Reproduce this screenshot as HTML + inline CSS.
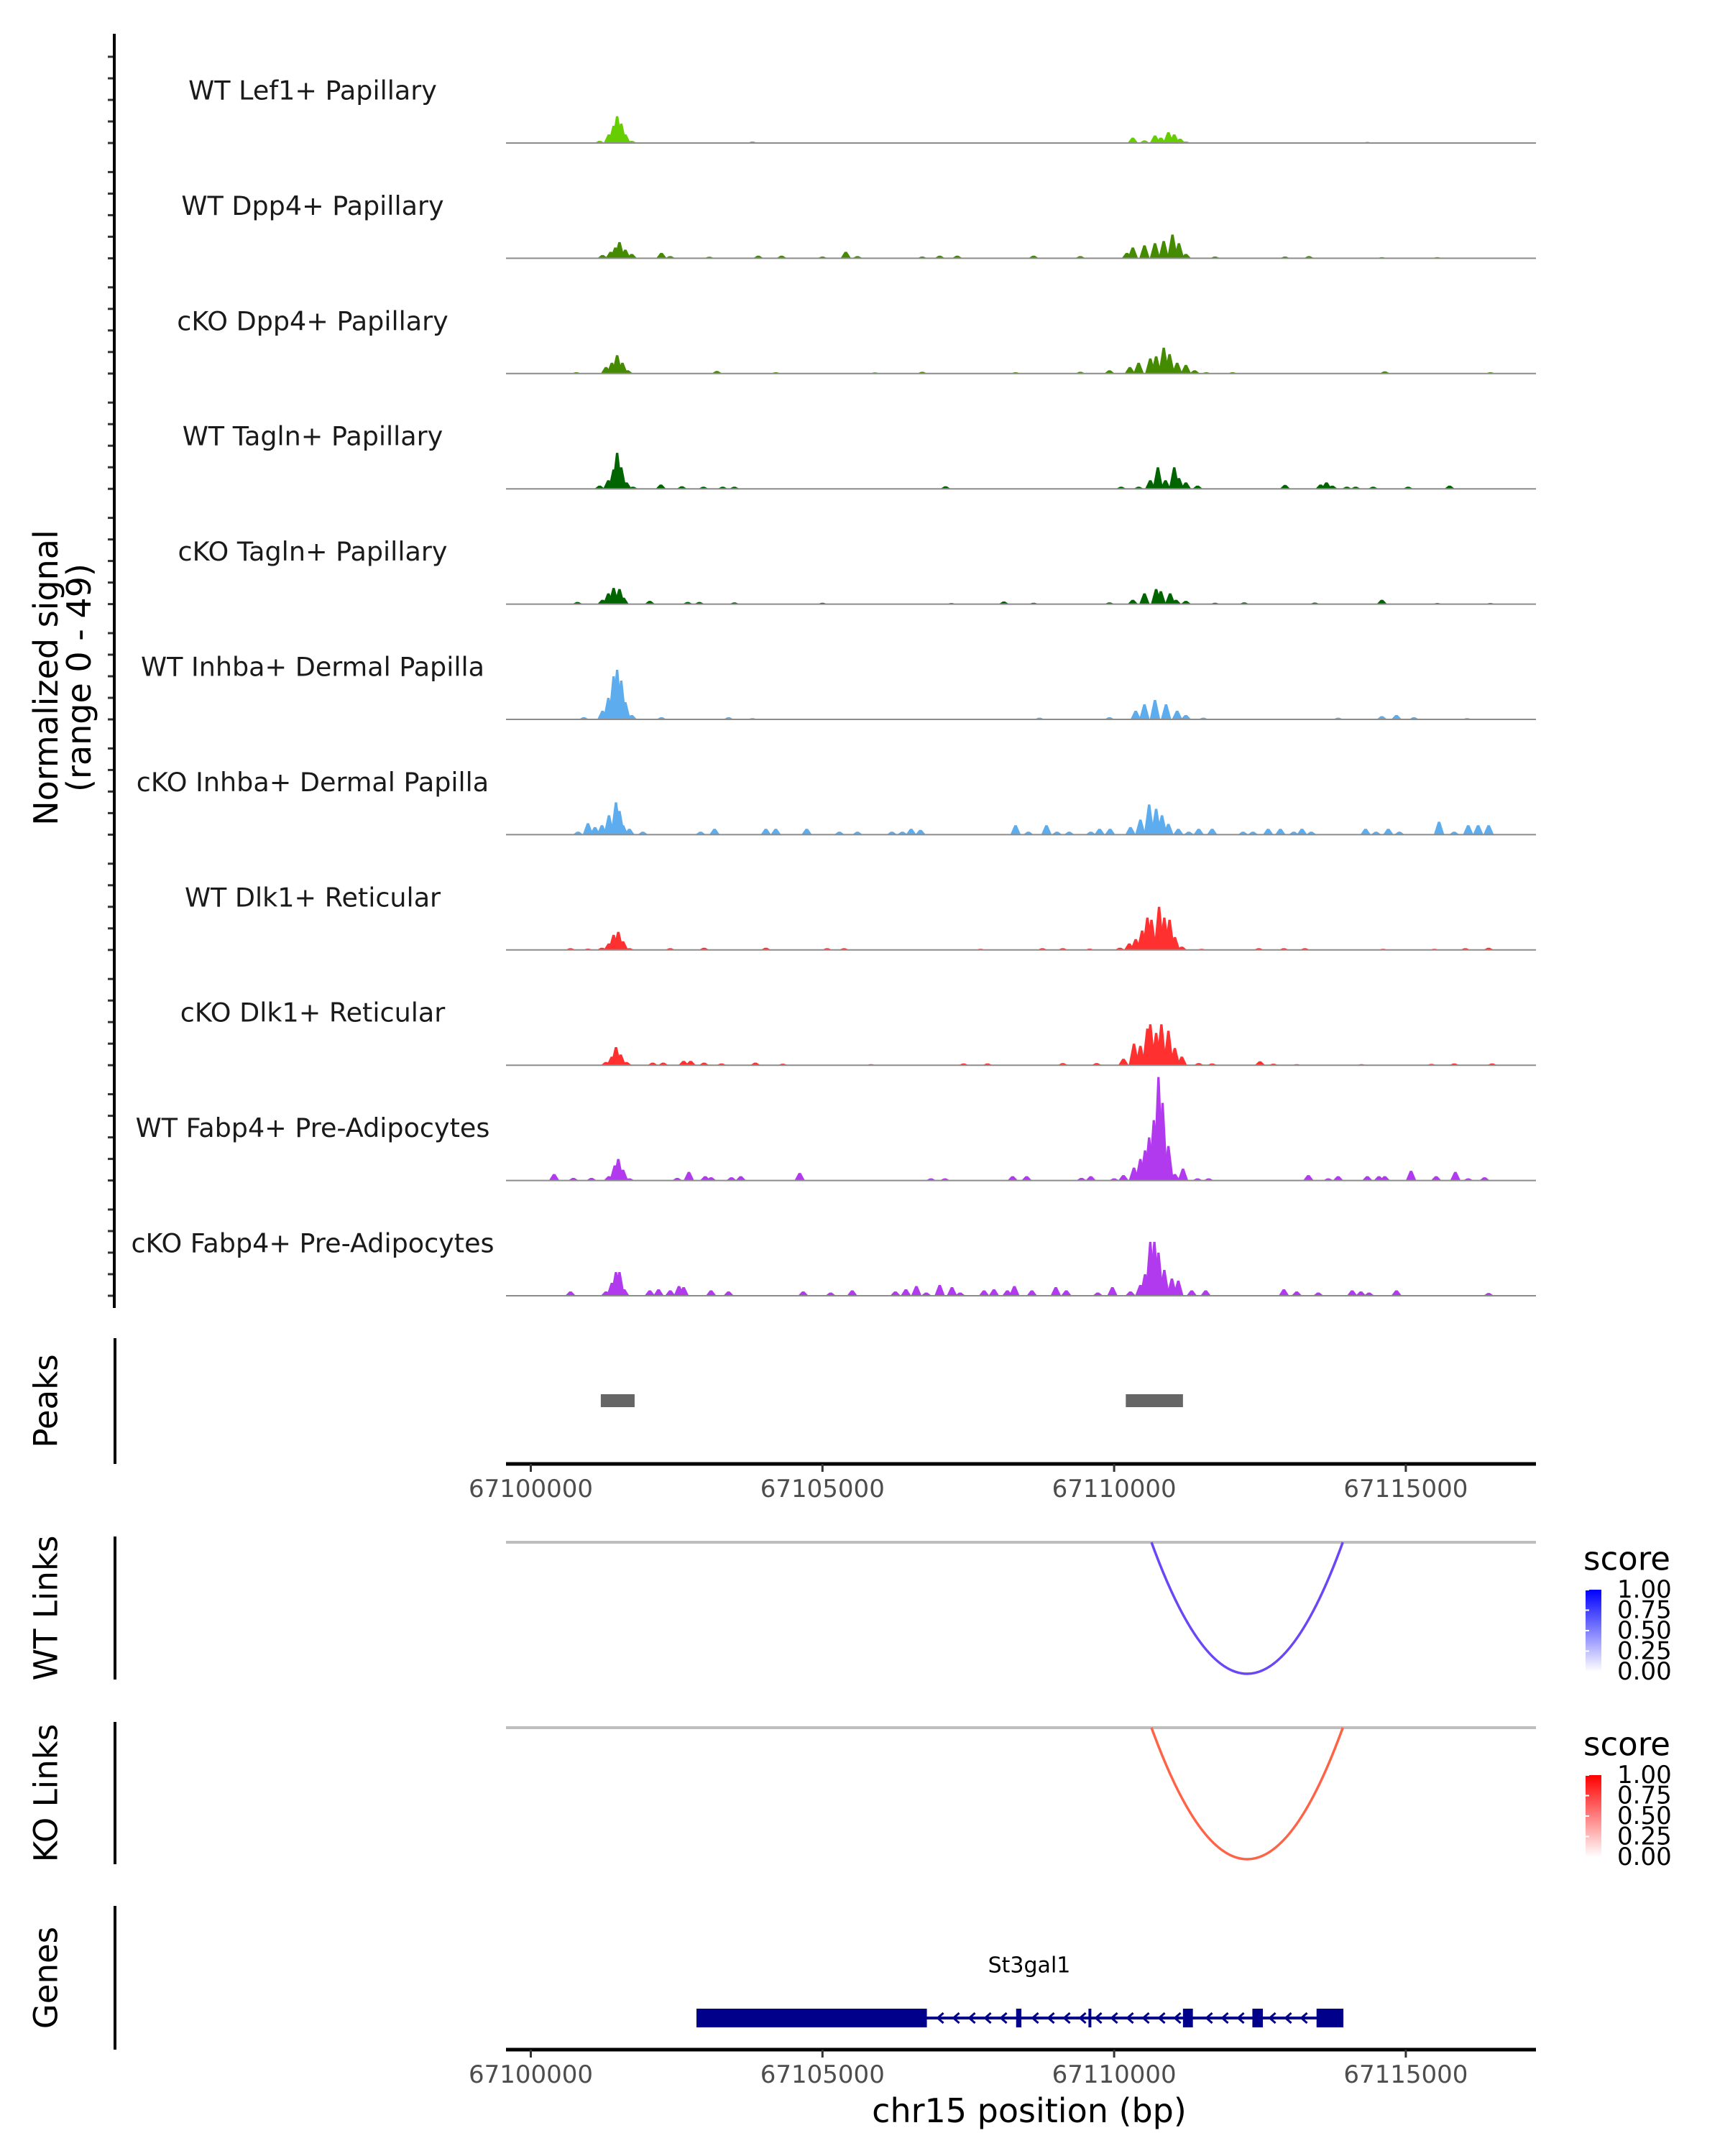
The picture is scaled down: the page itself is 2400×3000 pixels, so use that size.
<!DOCTYPE html>
<html><head><meta charset="utf-8"><style>
html,body{margin:0;padding:0;background:#fff}
svg{display:block}
text{font-family:"DejaVu Sans","Liberation Sans",sans-serif}
</style></head><body>
<svg id="chart" width="2400" height="3000" viewBox="0 0 2400 3000" xmlns="http://www.w3.org/2000/svg">
<defs>
<linearGradient id="gradBlue" x1="0" y1="1" x2="0" y2="0"><stop offset="0" stop-color="#ffffff"/><stop offset="1" stop-color="#0000ff"/></linearGradient>
<linearGradient id="gradRed" x1="0" y1="1" x2="0" y2="0"><stop offset="0" stop-color="#ffffff"/><stop offset="1" stop-color="#ff0000"/></linearGradient>
</defs>
<g id="tracks"></g>
<g id="yaxis"></g>
<text transform="translate(64,943) rotate(-90)" text-anchor="middle" dominant-baseline="central" font-size="46">Normalized signal</text>
<text transform="translate(110,943) rotate(-90)" text-anchor="middle" dominant-baseline="central" font-size="46">(range 0 - 49)</text>
<g id="peaks"></g>
<g id="links"></g>
<g id="genes"></g>
</svg>
<script>
const NS='http://www.w3.org/2000/svg';
const trackNames=['WT Lef1+ Papillary','WT Dpp4+ Papillary','cKO Dpp4+ Papillary','WT Tagln+ Papillary','cKO Tagln+ Papillary','WT Inhba+ Dermal Papilla','cKO Inhba+ Dermal Papilla','WT Dlk1+ Reticular','cKO Dlk1+ Reticular','WT Fabp4+ Pre-Adipocytes','cKO Fabp4+ Pre-Adipocytes'];
const trackColors=['#66cd00','#458b00','#458b00','#006400','#006400','#5cacee','#5cacee','#ff3030','#ff3030','#b23aee','#b23aee'];
// positions in kb offset from 67100000, values in normalized signal
const pos1=[1.18,1.34,1.42,1.48,1.55,1.62,1.73,3.8,10.32,10.52,10.7,10.8,10.93,11.03,11.13,11.23,14.34];
const val1=[1,4,8,12.4,9,4,1,0.7,2.5,1.2,3.5,2.5,5,4,2,0.7,0.5];
const pos2=[1.23,1.37,1.45,1.52,1.62,1.73,2.24,2.39,3.06,3.9,4.3,5.0,5.4,5.6,6.71,7.01,7.31,8.62,9.42,10.22,10.32,10.52,10.7,10.85,11.0,11.11,11.23,11.73,12.93,13.34,14.59,15.54];
const val2=[1.5,3,5,7.5,4,2,2.5,1,0.7,1.2,1.2,0.8,3,1,0.8,1.2,1.2,1.2,1,2.5,5,6,7,8,11,7,2,0.8,0.8,1,0.5,0.5];
const pos3=[0.78,1.29,1.39,1.48,1.57,1.66,3.19,4.2,5.9,6.71,8.31,9.42,9.92,10.27,10.42,10.62,10.72,10.85,10.95,11.08,11.23,11.38,11.58,12.03,14.64,16.45];
const val3=[0.6,3,5,8.5,5,1.5,1.2,0.6,0.5,0.8,0.6,0.8,1.5,3,5,7,8,12,9,5,4,1.5,0.6,0.6,1,0.6];
const pos4=[1.18,1.33,1.42,1.48,1.55,1.64,1.75,2.23,2.59,2.96,3.29,3.49,7.11,10.12,10.42,10.62,10.75,10.88,11.03,11.11,11.23,11.43,12.93,13.54,13.64,13.74,13.99,14.14,14.44,15.04,15.75];
const val4=[1.5,4,9,16.7,10,3,1,2,1.2,1,1,1,1.2,1,1,4,10,4,10,5,3,1.5,1.8,2,3,1.5,1,1,1,1,1.5];
const pos5=[0.8,1.23,1.33,1.42,1.52,1.59,2.04,2.69,2.89,3.49,5.0,7.21,8.11,8.62,9.92,10.32,10.52,10.72,10.8,10.96,11.06,11.23,11.73,12.23,13.44,14.59,15.54,16.45];
const val5=[1,2,5,7.5,7,3,1.5,1,1,0.8,0.6,0.5,1.2,0.6,0.8,2,5,7,6,5,2,1.5,0.6,0.8,0.7,2,0.5,0.5];
const pos6=[0.91,1.23,1.33,1.42,1.48,1.55,1.62,1.73,2.24,3.39,3.8,8.72,9.92,10.37,10.52,10.7,10.89,11.08,11.23,11.53,13.84,14.59,14.84,15.14,16.05];
const val6=[1,4,10,20,23,18,8,2,1,1,0.6,0.8,1,4,7,9,7,4,2,0.8,0.8,1.5,2,1,0.6];
const pos7=[0.81,0.98,1.1,1.22,1.34,1.46,1.52,1.58,1.69,1.92,2.91,3.15,4.03,4.2,4.73,5.29,5.6,6.19,6.37,6.52,6.68,8.31,8.53,8.84,9.02,9.23,9.6,9.75,9.93,10.28,10.45,10.6,10.72,10.82,10.93,11.1,11.28,11.45,11.68,12.21,12.38,12.64,12.85,13.08,13.22,13.38,14.31,14.49,14.7,14.89,15.57,15.83,16.07,16.24,16.42];
const val7=[1.4,5.3,3.5,4.4,9,15,11,4.4,2.7,1.4,1.4,2.7,2.7,2.7,2.7,1.4,1.4,1.4,1.4,2.7,2.2,4.4,1.4,4.4,1.4,1.4,1.4,2.7,2.7,3.5,7,14,12,9,5,2.7,1.4,2.7,2.7,1.4,1.4,2.7,2.7,1.4,2.7,1.4,2.7,1.4,2.7,1.4,6,1.4,4.4,4.4,4.4];
const pos8=[0.68,0.98,1.22,1.34,1.42,1.5,1.58,1.69,2.39,2.97,4.03,5.08,5.37,7.71,8.77,9.12,9.58,10.1,10.26,10.37,10.48,10.57,10.64,10.77,10.86,10.95,11.04,11.16,11.5,12.48,12.91,13.27,14.61,15.49,16.02,16.42];
const val8=[0.8,0.6,1,3,7,8.4,4,0.8,0.8,1,1,0.8,0.8,0.5,0.8,0.8,0.6,1,3,5,9,15,14,20,15,14,6,1.5,0.5,0.8,0.8,0.8,0.5,0.5,0.8,1];
const pos9=[1.29,1.39,1.46,1.54,1.64,2.09,2.27,2.62,2.74,2.97,3.27,3.85,4.32,5.83,7.42,7.83,9.12,9.7,10.16,10.34,10.45,10.57,10.62,10.72,10.81,10.93,11.04,11.16,11.45,11.68,12.5,12.73,13.13,14.24,15.44,15.83,16.48];
const val9=[1.5,4,8.4,5,1.5,1.2,1.2,2,2,1.2,0.8,1.2,0.7,0.5,0.8,0.8,1,1,3,10,9,17,19,15,19,16,8,4,1,0.8,1.8,0.7,0.5,0.5,0.6,0.8,0.8];
const pos10=[0.4,0.73,1.04,1.34,1.44,1.5,1.58,1.69,2.51,2.71,2.99,3.09,3.44,3.6,4.61,6.86,7.1,8.26,8.5,9.44,9.6,10.0,10.16,10.34,10.45,10.53,10.6,10.68,10.76,10.83,10.93,11.04,11.18,11.43,11.62,13.33,13.67,13.84,14.34,14.54,14.64,15.09,15.52,15.85,16.07,16.35];
const val10=[3,1.2,1.2,2,7,10,5,1,1.2,4,2,1.5,1.5,2,3.5,1,1,2,2,1.2,2,1,2.5,6,10,14,20,28,48,36,16,3,5.5,1,1,2.5,1,2,2,2,2,4.5,2,4,1,1.5];
const pos11=[0.68,1.29,1.39,1.46,1.52,1.6,2.04,2.19,2.39,2.54,2.62,3.09,3.39,4.67,5.14,5.51,6.25,6.43,6.61,6.78,7.01,7.22,7.36,7.77,7.94,8.17,8.29,8.59,9.0,9.18,9.72,9.97,10.28,10.45,10.53,10.62,10.69,10.76,10.86,10.99,11.1,11.33,11.57,12.91,13.13,13.5,14.08,14.23,14.37,14.84,16.42];
const val11=[2,2,6,11,11,3,2.5,3,2.5,4.5,4,2.5,2,2,1.5,2.5,2,3,4.5,1.5,5,4,1.5,2.5,3,2.5,4.5,2.5,4,2.5,1.5,4,2,5,10,25,25,20,12,8,7,2.5,2.5,3,2,1.5,2.5,2,1.5,2.5,1.3];
const trackPos=[pos1,pos2,pos3,pos4,pos5,pos6,pos7,pos8,pos9,pos10,pos11];
const trackVal=[val1,val2,val3,val4,val5,val6,val7,val8,val9,val10,val11];
const peakStarts=[1.20,10.20];
const peakEnds=[1.78,11.18];
const tickBp=[67100000,67105000,67110000,67115000];
const linkStart=[10.64];
const linkEnd=[13.92];
const linkScoreWT=[0.75];
const linkScoreKO=[0.75];
const exonStarts=[2.84,8.32,9.56,11.18,12.37,13.47];
const exonEnds=[6.79,8.41,9.60,11.35,12.55,13.93];
const geneStart=[2.84];
const geneEnd=[13.93];
const legendTicks=['1.00','0.75','0.50','0.25','0.00'];

const X0=738.5, PXKB=81.16, XL=704, XR=2137;
function xk(kb){return X0+kb*PXKB;}
function xb(bp){return X0+(bp-67100000)/1000*PXKB;}
const YS=3.0;
function base(i){return 199+160.4*i;}
function mk(tag,attrs,parent){const e=document.createElementNS(NS,tag);for(const k in attrs)e.setAttribute(k,attrs[k]);parent.appendChild(e);return e;}

const gT=document.getElementById('tracks');
const gY=document.getElementById('yaxis');
for(let i=0;i<trackNames.length;i++){
  const b=base(i);
  const g=mk('g',{},gT);
  
  
  const t=mk('text',{x:435,y:b-73,'text-anchor':'middle','dominant-baseline':'central','font-size':36.5,fill:'#1a1a1a'},g);
  t.textContent=trackNames[i];
  
  
  const ps=trackPos[i], vs=trackVal[i];
  for(let j=0;j<ps.length;j++){
    const hw=0.09;
    const p=mk('polygon',{points:`${xk(ps[j]-hw)},${b} ${xk(ps[j]-0.02)},${b-vs[j]*YS} ${xk(ps[j]+0.02)},${b-vs[j]*YS} ${xk(ps[j]+hw)},${b}`,fill:trackColors[i]},g);
    
    
  }
  const l=mk('line',{x1:XL,x2:XR,y1:b,y2:b,stroke:'#8c8c8c','stroke-width':2},g);
  
  
  for(let v=0;v<=40;v+=10){
    const tk=mk('line',{x1:150,x2:158,y1:b-v*YS,y2:b-v*YS,stroke:'#333','stroke-width':3},gY);
    
    
  }
}
const ax=mk('line',{x1:159,x2:159,y1:47,y2:1820,stroke:'#000','stroke-width':4},gY);



function sideLabel(txt,y1,y2,name){
  const l=mk('line',{x1:160,x2:160,y1:y1,y2:y2,stroke:'#000','stroke-width':4},document.getElementById('chart'));
  
  
  const t=mk('text',{transform:`translate(64,${(y1+y2)/2}) rotate(-90)`,'text-anchor':'middle','dominant-baseline':'central','font-size':45},document.getElementById('chart'));
  t.textContent=txt;
  
  
}
function xAxis(y,parent,name){
  const l=mk('line',{x1:XL,x2:XR,y1:y,y2:y,stroke:'#000','stroke-width':5},parent);
  
  
  tickBp.forEach(bp=>{
    const tk=mk('line',{x1:xb(bp),x2:xb(bp),y1:y,y2:y+11,stroke:'#333','stroke-width':3},parent);
    
    
    const t=mk('text',{x:xb(bp),y:y+35,'text-anchor':'middle','dominant-baseline':'central','font-size':34,fill:'#4d4d4d'},parent);
    t.textContent=String(bp);
    
    
  });
}
// Peaks
const gP=document.getElementById('peaks');
sideLabel('Peaks',1862,2037,'peaks');
for(let i=0;i<peakStarts.length;i++){
  const r=mk('rect',{x:xk(peakStarts[i]),y:1940,width:xk(peakEnds[i])-xk(peakStarts[i]),height:18,fill:'#666'},gP);
  
  
}
xAxis(2037,gP,'peaks-x-axis');

// Links
const gL=document.getElementById('links');
function linkPanel(yTop,yLine,yBot,label,scores,grad,color,name){
  sideLabel(label,yTop,yBot,name);
  const l=mk('line',{x1:XL,x2:XR,y1:yLine,y2:yLine,stroke:'#bebebe','stroke-width':4},gL);
  
  
  for(let i=0;i<linkStart.length;i++){
    const a=xk(linkStart[i]), b=xk(linkEnd[i]);
    const depth=183*scores[i]/0.75;
    const p=mk('path',{d:`M${a},${yLine} Q${(a+b)/2},${yLine+2*depth} ${b},${yLine}`,fill:'none',stroke:color,'stroke-width':3.5},gL);
    
    
  }
  const lg=mk('g',{},gL);
  
  
  const st=mk('text',{x:2203,y:yLine+23,'dominant-baseline':'central','font-size':45},lg);
  st.textContent='score';
  
  
  const by=yLine+66;
  const r=mk('rect',{x:2206,y:by,width:22,height:114,fill:`url(#${grad})`},lg);
  
  
  legendTicks.forEach((lab,k)=>{
    const yy=by+k*114/4;
    const tk=mk('line',{x1:2206,x2:2211,y1:yy,y2:yy,stroke:'#fff','stroke-width':2},lg);
    
    
    const t=mk('text',{x:2250,y:yy,'dominant-baseline':'central','font-size':34},lg);
    t.textContent=lab;
    
    
  });
}
linkPanel(2138,2146,2337,'WT Links',linkScoreWT,'gradBlue','#6a46f6','wt-links');
linkPanel(2396,2404,2594,'KO Links',linkScoreKO,'gradRed','#ff6347','ko-links');

// Genes
const gG=document.getElementById('genes');
sideLabel('Genes',2652,2852,'genes');
const gy=2808;
const gl=mk('line',{x1:xk(geneStart[0]),x2:xk(geneEnd[0]),y1:gy,y2:gy,stroke:'#00008b','stroke-width':4},gG);


for(let x=xk(exonEnds[0])+18;x<xk(geneEnd[0])-20;x+=22){
  const inExon=exonStarts.some((s,k)=>x>xk(s)-8&&x<xk(exonEnds[k])+8);
  if(inExon)continue;
  const c=mk('path',{d:`M${x+5},${gy-7} L${x-3},${gy} L${x+5},${gy+7}`,fill:'none',stroke:'#00008b','stroke-width':3},gG);
  
  
}
for(let i=0;i<exonStarts.length;i++){
  const r=mk('rect',{x:xk(exonStarts[i]),y:gy-13,width:Math.max(4,xk(exonEnds[i])-xk(exonStarts[i])),height:26,fill:'#00008b'},gG);
  
  
}
const gn=mk('text',{x:1432,y:2735,'text-anchor':'middle','dominant-baseline':'central','font-size':30},gG);
gn.textContent='St3gal1';


xAxis(2852,gG,'genes-x-axis');
const xt=mk('text',{x:1432,y:2937,'text-anchor':'middle','dominant-baseline':'central','font-size':46},gG);
xt.textContent='chr15 position (bp)';


</script>
</body></html>
